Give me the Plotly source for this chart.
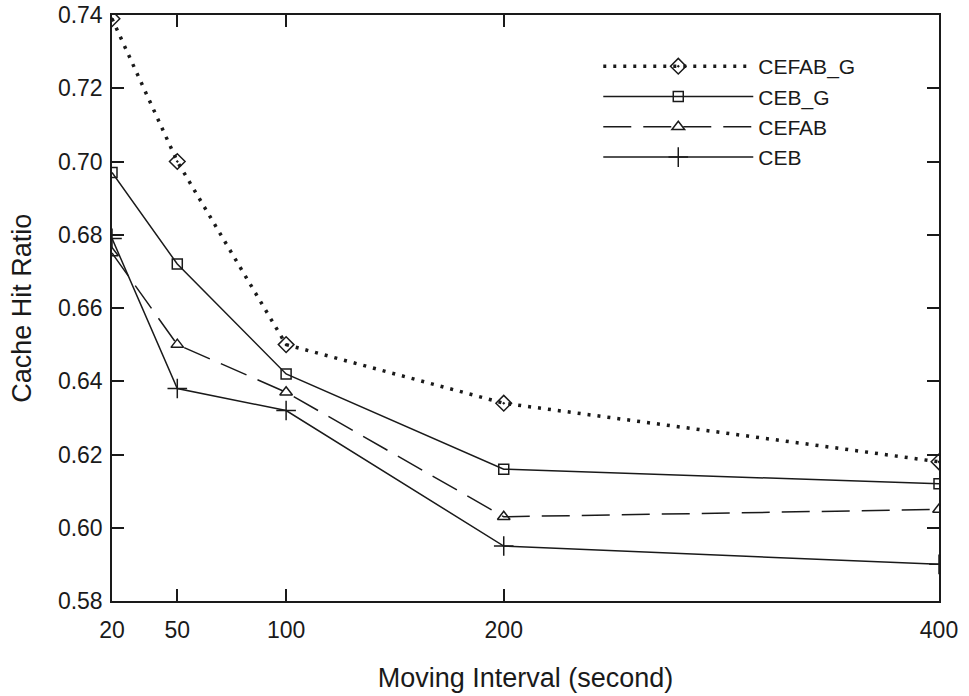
import plotly.graph_objects as go

intervals = [20, 50, 100, 200, 400]
x_tick_labels = ["20", "50", "100", "200", "400"]
y_ticks = [0.58, 0.60, 0.62, 0.64, 0.66, 0.68, 0.70, 0.72, 0.74]
y_tick_labels = ["0.58", "0.60", "0.62", "0.64", "0.66", "0.68", "0.70", "0.72", "0.74"]

cefab_g = [0.739, 0.700, 0.650, 0.634, 0.618]
ceb_g = [0.697, 0.672, 0.642, 0.616, 0.612]
cefab = [0.675, 0.650, 0.637, 0.603, 0.605]
ceb = [0.679, 0.638, 0.632, 0.595, 0.590]

FONT = "Liberation Sans, Arial, sans-serif"
INK = "#1a1a1a"

fig = go.Figure()
fig.add_trace(go.Scatter(
    x=intervals, y=cefab_g, name="CEFAB_G", mode="lines+markers",
    line=dict(color=INK, width=3.5, dash="3px,7px"),
    marker=dict(symbol="diamond-open-dot", size=12, color=INK, line=dict(width=1.5, color=INK)),
))
fig.add_trace(go.Scatter(
    x=intervals, y=ceb_g, name="CEB_G", mode="lines+markers",
    line=dict(color=INK, width=1.5),
    marker=dict(symbol="square-open", size=10, color=INK, line=dict(width=1.5, color=INK)),
))
fig.add_trace(go.Scatter(
    x=intervals, y=cefab, name="CEFAB", mode="lines+markers",
    line=dict(color=INK, width=1.5, dash="28px,12px"),
    marker=dict(symbol="triangle-up-open", size=11, color=INK, line=dict(width=1.5, color=INK)),
))
fig.add_trace(go.Scatter(
    x=intervals, y=ceb, name="CEB", mode="lines+markers",
    line=dict(color=INK, width=1.5),
    marker=dict(symbol="cross-thin", size=14, color=INK, line=dict(width=1.5, color=INK)),
))

fig.update_layout(
    width=969, height=696,
    margin=dict(l=112, r=30, t=15, b=95, autoexpand=False),
    paper_bgcolor="white", plot_bgcolor="white",
    font=dict(family=FONT, size=23, color=INK),
    showlegend=True,
    legend=dict(
        x=0.588, y=0.947, xanchor="left", yanchor="top",
        bgcolor="rgba(0,0,0,0)", borderwidth=0,
        font=dict(family=FONT, size=21, color=INK),
        itemwidth=150, tracegroupgap=0,
    ),
    xaxis=dict(
        range=[20, 400], tickvals=intervals, ticktext=x_tick_labels,
        ticks="inside", ticklen=12, tickwidth=1.5, tickcolor=INK,
        showline=True, linecolor=INK, linewidth=1.5, mirror="ticks",
        showgrid=False, zeroline=False, ticklabelstandoff=8, automargin=False,
        tickfont=dict(family=FONT, size=23, color=INK),
        title=dict(text="Moving Interval (second)", font=dict(family=FONT, size=27, color=INK), standoff=26),
    ),
    yaxis=dict(
        range=[0.58, 0.74], tickvals=y_ticks, ticktext=y_tick_labels,
        ticks="inside", ticklen=12, tickwidth=1.5, tickcolor=INK,
        showline=True, linecolor=INK, linewidth=1.5, mirror="ticks",
        showgrid=False, zeroline=False, ticklabelstandoff=3, automargin=False,
        tickfont=dict(family=FONT, size=23, color=INK),
    ),
    annotations=[dict(
        text="Cache Hit Ratio", textangle=-90, showarrow=False,
        xref="paper", yref="paper", x=-0.109, y=0.5, xanchor="center", yanchor="middle",
        font=dict(family=FONT, size=27, color=INK),
    )],
)

fig.write_html("out.html")
